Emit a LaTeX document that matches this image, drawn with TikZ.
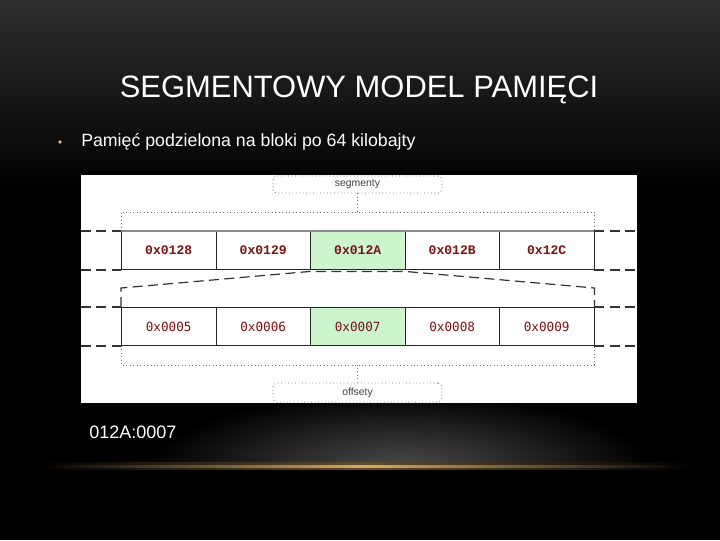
\documentclass[tikz,border=0pt]{standalone}
\usepackage{fontspec}
\setmainfont{Liberation Sans}
\newfontfamily\cellfont{Liberation Mono}
\newfontfamily\cellfontb{DejaVu Sans Mono}
\usetikzlibrary{calc}
\definecolor{celltxt}{RGB}{120,20,20}
\definecolor{cellgreen}{RGB}{204,245,204}
\definecolor{gold}{RGB}{215,170,100}
\definecolor{topgray}{RGB}{46,46,46}
\definecolor{glow}{RGB}{75,75,75}
\tikzset{
  cellbox/.style={draw=black!85, line width=0.7pt, minimum width=94.5*0.75pt, minimum height=38*0.75pt, inner sep=0pt, anchor=north west, font=\cellfont\bfseries\fontsize{9.8}{11}\selectfont, text=celltxt, fill=white},
  cellboxb/.style={cellbox, font=\cellfontb\fontsize{9.5}{11}\selectfont},
  hot/.style={fill=cellgreen},
  dotline/.style={draw=black!55, line width=0.6pt, dotted},
  dashline/.style={draw=black!80, line width=0.9pt, dash pattern=on 7.5pt off 4pt},
  labelbox/.style={dotline, rounded corners=3pt, minimum width=169*0.75pt, inner sep=0pt, font=\fontsize{7.8}{9}\selectfont, text=black!75},
}
\begin{document}
\begin{tikzpicture}[x=0.75pt,y=-0.75pt]
\useasboundingbox (0,0) rectangle (720,540);
\fill[black] (0,0) rectangle (720,540);
\shade[top color=topgray, bottom color=black] (0,0) rectangle (720,190);
\begin{scope}
\clip (0,395) rectangle (720,466);
\shade[inner color=glow, outer color=black] (400,468) ellipse (250 and 75);
\end{scope}
\shade[left color=black, right color=black, middle color=gold!45!black] (40,462.5) rectangle (690,469.5);
\shade[left color=black, right color=black, middle color=gold] (40,465) rectangle (690,467);

% title and bullet
\node[text=white, font=\fontsize{23.2}{26}\selectfont] (title) at (359,90) {SEGMENTOWY MODEL PAMIĘCI};
\fill[gold!80!white] (60,142) circle (1.8);
\node[text=white, anchor=west, inner sep=0pt, font=\fontsize{13.3}{15}\selectfont] (bullet) at (81,142) {Pamięć podzielona na bloki po 64 kilobajty};

% figure background
\fill[white] (81,175) rectangle (637,403);

% segment label
\node[labelbox, minimum height=17*0.75pt] (seg) at (357.5,184.5) {segmenty};
\node[labelbox, minimum height=19*0.75pt] (off) at (357.5,392.5) {offsety};

% top row
\node[cellbox] (t1) at (121,231) {0x0128};
\node[cellbox] (t2) at (215.5,231) {0x0129};
\node[cellbox,hot] (t3) at (310,231) {0x012A};
\node[cellbox] (t4) at (404.5,231) {0x012B};
\node[cellbox] (t5) at (499,231) {0x12C};
\draw[black!45, line width=1.4pt] (t1.north west) -- (t5.north east);

% bottom row
\node[cellboxb] (b1) at (121,307) {0x0005};
\node[cellboxb] (b2) at (215.5,307) {0x0006};
\node[cellboxb,hot] (b3) at (310,307) {0x0007};
\node[cellboxb] (b4) at (404.5,307) {0x0008};
\node[cellboxb] (b5) at (499,307) {0x0009};

% dotted brackets
\coordinate (tl) at ($(t1.north west)+(0,-19)$);
\coordinate (tr) at ($(t5.north east)+(0,-19)$);
\draw[dotline] (t1.north west) -- (tl) -- (tr) -- (t5.north east);
\draw[dotline] (seg.south) -- (seg.south |- tl);
\coordinate (bl) at ($(b1.south west)+(0,19)$);
\coordinate (br) at ($(b5.south east)+(0,19)$);
\draw[dotline] (b1.south west) -- (bl) -- (br) -- (b5.south east);
\draw[dotline] (off.north) -- (off.north |- bl);

% dashed extensions
\coordinate (L) at (81,0);
\coordinate (R) at (637,0);
\draw[dashline] (L |- t1.north west) -- (t1.north west);
\draw[dashline] (L |- t1.south west) -- (t1.south west);
\draw[dashline] (t5.north east) -- (R |- t5.north east);
\draw[dashline] (t5.south east) -- (R |- t5.south east);
\draw[dashline] (L |- b1.north west) -- (b1.north west);
\draw[dashline] (L |- b1.south west) -- (b1.south west);
\draw[dashline] (b5.north east) -- (R |- b5.north east);
\draw[dashline] (b5.south east) -- (R |- b5.south east);

% trapezoid
\coordinate (zl) at ($(b1.north west)+(0,-19)$);
\coordinate (zr) at ($(b5.north east)+(0,-19)$);
\draw[dashline] (b1.north west) -- (zl) -- ($(t3.south west)+(0,1.5)$) -- ($(t3.south east)+(0,1.5)$) -- (zr) -- (b5.north east);

% address
\node[text=white, anchor=west, inner sep=0pt, font=\fontsize{13.5}{16}\selectfont] (addr) at (89,432) {012A:0007};
\end{tikzpicture}
\end{document}
